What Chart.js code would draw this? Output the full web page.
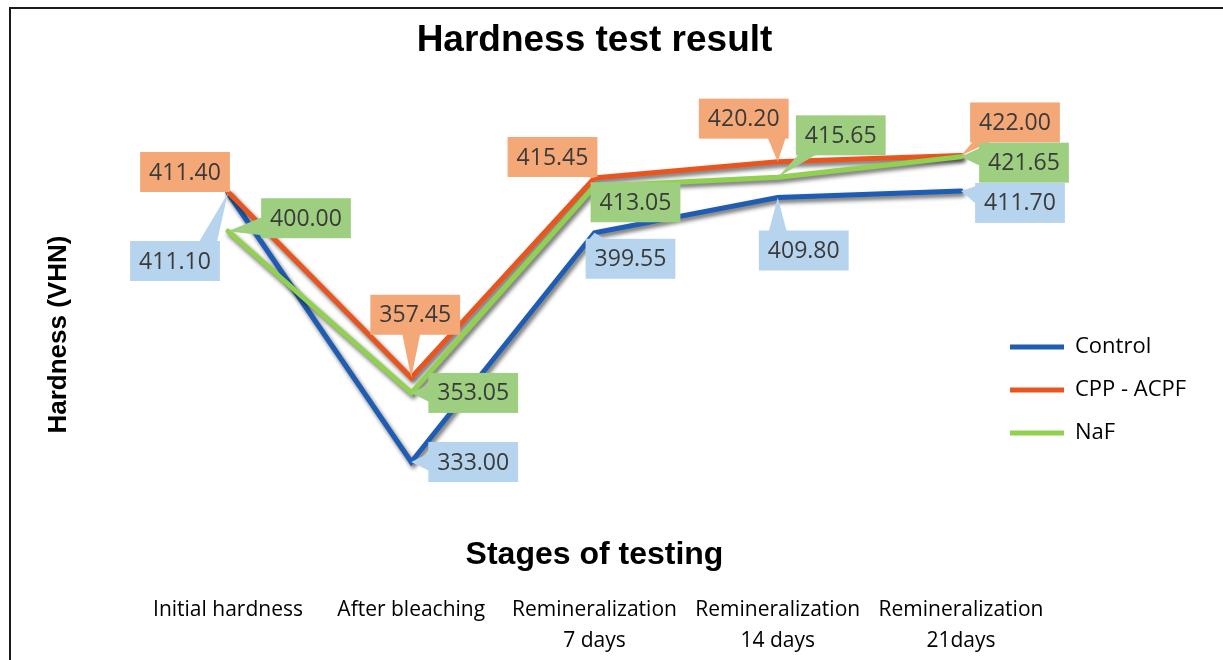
<!DOCTYPE html>
<html>
<head>
<meta charset="utf-8">
<script src="https://cdn.jsdelivr.net/npm/chart.js@4.4.1/dist/chart.umd.min.js"></script>
<style>
html,body{margin:0;padding:0;background:#fff;}
#wrap{position:relative;width:1223px;height:660px;overflow:hidden;}
canvas{position:absolute;left:0;top:0;}
#frame{position:absolute;left:9px;top:7px;width:1300px;height:700px;border-top:2px solid #1a1a1a;border-left:2px solid #1a1a1a;pointer-events:none;}
</style>
</head>
<body>
<div id="wrap"><canvas id="c" width="1223" height="660"></canvas><div id="frame"></div></div>
<script>
// ---- data ----
const stages = ['Initial hardness', 'After bleaching', ['Remineralization', '7 days'], ['Remineralization', '14 days'], ['Remineralization', '21days']];
const seriesNames = ['Control', 'CPP - ACPF', 'NaF'];
const controlValues = [411.10, 333.00, 399.55, 409.80, 411.70];
const cppAcpfValues = [411.40, 357.45, 415.45, 420.20, 422.00];
const nafValues = [400.00, 353.05, 413.05, 415.65, 421.65];

// ---- styles ----
const lineColors = ['#1F5CB3', '#E9551F', '#92D050'];
const boxColors = ['#B7D4EE', '#F4A877', '#9ECF80'];
// callout box centre offsets relative to each point (px)
const labelOffsets = [
  [[-53, 68], [62, 0], [36, 26], [26, 53], [59, 12]],
  [[-43, -20], [4, -63], [-42, -21], [-34, -43], [54, -33]],
  [[78, -13], [62, 0], [41, 16], [63, -42], [63, 6]]
];

const shadowPlugin = {
  id: 'lineShadow',
  beforeDatasetDraw(chart) {
    const ctx = chart.ctx;
    ctx.save();
    ctx.shadowColor = 'rgba(0,0,0,0.6)';
    ctx.shadowBlur = 4;
    ctx.shadowOffsetX = 2;
    ctx.shadowOffsetY = 3;
  },
  afterDatasetDraw(chart) {
    chart.ctx.restore();
  }
};

const calloutPlugin = {
  id: 'callouts',
  afterDatasetsDraw(chart) {
    const ctx = chart.ctx;
    ctx.save();
    ctx.font = '23px "Open Sans", sans-serif';
    chart.data.datasets.forEach((ds, i) => {
      const meta = chart.getDatasetMeta(i);
      meta.data.forEach((pt, j) => {
        const px = pt.x, py = pt.y;
        const off = labelOffsets[i][j];
        const text = ds.data[j].toFixed(2);
        const w = ctx.measureText(text).width + 18, h = 40;
        const cx = px + off[0], cy = py + off[1];
        const l = cx - w / 2, r = cx + w / 2, t = cy - h / 2, b = cy + h / 2;
        ctx.fillStyle = boxColors[i];
        ctx.fillRect(l, t, w, h);
        const over = {left: l - px, right: px - r, top: t - py, bottom: py - b};
        let side = null, m = 0;
        for (const k in over) { if (over[k] > m) { m = over[k]; side = k; } }
        if (side) {
          const hw = 9;
          const clamp = (v, a, c) => Math.max(a, Math.min(c, v));
          ctx.beginPath();
          if (side === 'top' || side === 'bottom') {
            const ey = side === 'top' ? t + 1 : b - 1;
            const c = clamp(px, l + 12, r - 12);
            ctx.moveTo(c - hw, ey);
            ctx.lineTo(px, py);
            ctx.lineTo(c + hw, ey);
          } else {
            const ex = side === 'left' ? l + 1 : r - 1;
            const c = clamp(py, t + 12, b - 12);
            ctx.moveTo(ex, c - hw);
            ctx.lineTo(px, py);
            ctx.lineTo(ex, c + hw);
          }
          ctx.closePath();
          ctx.fill();
        }
        ctx.fillStyle = '#3a3a3a';
        ctx.textAlign = 'center';
        ctx.textBaseline = 'middle';
        ctx.fillText(text, cx, cy + 1);
      });
    });
    ctx.restore();
  }
};

Chart.defaults.font.family = '"Open Sans", sans-serif';
Chart.defaults.color = '#000';

const seriesValues = [controlValues, cppAcpfValues, nafValues];
const datasets = seriesNames.map((name, i) => ({
  label: name,
  data: seriesValues[i],
  borderColor: lineColors[i],
  backgroundColor: lineColors[i],
  borderWidth: 5,
  borderCapStyle: 'round',
  borderJoinStyle: 'miter',
  pointRadius: 0,
  pointHoverRadius: 0,
  tension: 0,
  clip: false,
  order: 3 - i
}));

new Chart(document.getElementById('c'), {
  type: 'line',
  data: { labels: stages, datasets },
  plugins: [shadowPlugin, calloutPlugin],
  options: {
    responsive: false,
    animation: false,
    devicePixelRatio: 1,
    layout: { padding: { left: 10, right: 29, top: 5, bottom: 0 } },
    plugins: {
      tooltip: { enabled: false },
      title: {
        display: true,
        fullSize: false,
        text: 'Hardness test result',
        color: '#000',
        font: { family: '"Liberation Sans", Arial, sans-serif', size: 37, weight: 'bold' },
        padding: { top: 14, bottom: 64.5 }
      },
      legend: {
        display: true,
        position: 'right',
        align: 'center',
        maxWidth: 205,
        title: { display: true, text: '', font: { size: 10 }, padding: { top: 0, bottom: 102.9 } },
        labels: {
          usePointStyle: true,
          pointStyle: 'line',
          pointStyleWidth: 54,
          padding: 21,
          color: '#000',
          font: { size: 22 },
          sort: (a, b) => a.datasetIndex - b.datasetIndex
        }
      }
    },
    scales: {
      x: {
        type: 'category',
        position: 'bottom',
        offset: false,
        weight: 0,
        grid: { display: false, drawTicks: false },
        border: { display: false },
        ticks: { display: false },
        title: {
          display: true,
          text: 'Stages of testing',
          color: '#000',
          font: { family: '"Liberation Sans", Arial, sans-serif', size: 32, weight: 'bold' },
          padding: 0
        },
        afterFit: (s) => { s.height = 33; }
      },
      x2: {
        type: 'category',
        position: 'bottom',
        offset: false,
        weight: 1,
        grid: { display: false, drawTicks: false },
        border: { display: false },
        ticks: {
          color: '#000',
          font: { size: 21, lineHeight: 1.45 },
          padding: 21,
          maxRotation: 0,
          minRotation: 0,
          autoSkip: false
        },
        afterFit: (s) => { s.height = 85.8; }
      },
      y: {
        type: 'linear',
        position: 'left',
        min: 310,
        max: 430,
        grid: { display: false, drawTicks: false },
        border: { display: false },
        ticks: { display: false },
        title: {
          display: true,
          text: 'Hardness (VHN)',
          color: '#000',
          font: { family: '"Liberation Sans", Arial, sans-serif', size: 26, weight: 'bold' },
          padding: { top: 33.4, bottom: 0 }
        },
        afterFit: (s) => { s.width = 218; }
      },
      y2: {
        type: 'linear',
        position: 'right',
        display: true,
        grid: { display: false, drawTicks: false },
        border: { display: false },
        ticks: { display: false },
        afterFit: (s) => { s.width = 28; }
      }
    }
  }
});
</script>
</body>
</html>
